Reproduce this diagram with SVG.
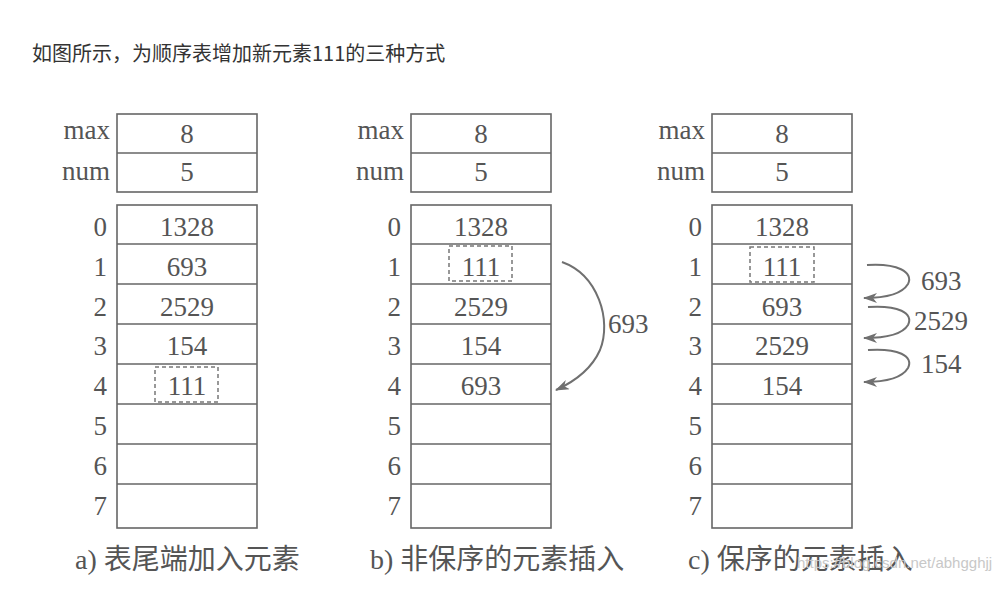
<svg xmlns="http://www.w3.org/2000/svg" width="1008" height="589" viewBox="0 0 1008 589">
<style>
.box{fill:#fff;stroke:#666;stroke-width:1.6}
.ln{stroke:#666;stroke-width:1.6}
.dash{fill:none;stroke:#777;stroke-width:1.5;stroke-dasharray:4 3}
.v{font-family:"Liberation Serif",serif;font-size:27px;fill:#555;text-anchor:middle}
.lb{font-family:"Liberation Serif",serif;font-size:27px;fill:#555;text-anchor:end}
.al{font-family:"Liberation Serif",serif;font-size:27px;fill:#555}
.cap{font-family:"Liberation Serif","Noto Sans CJK SC",serif;font-size:28px;fill:#555}
.arr{fill:none;stroke:#707070;stroke-width:2}
</style>
<defs>
<marker id="ah" markerUnits="userSpaceOnUse" markerWidth="14" markerHeight="10" refX="13" refY="5" orient="auto">
<path d="M0,0 L14,5 L0,10 L4,5 z" fill="#707070"/>
</marker>
<g id="table">
<rect class="box" x="0" y="114" width="140" height="78"/>
<line class="ln" x1="0" y1="153" x2="140" y2="153"/>
<rect class="box" x="0" y="205" width="140" height="323"/>
<line class="ln" x1="0" y1="244" x2="140" y2="244"/>
<line class="ln" x1="0" y1="284" x2="140" y2="284"/>
<line class="ln" x1="0" y1="324" x2="140" y2="324"/>
<line class="ln" x1="0" y1="364" x2="140" y2="364"/>
<line class="ln" x1="0" y1="404" x2="140" y2="404"/>
<line class="ln" x1="0" y1="444" x2="140" y2="444"/>
<line class="ln" x1="0" y1="484" x2="140" y2="484"/>
<text class="lb" x="-7" y="139">max</text>
<text class="lb" x="-7" y="180">num</text>
<text class="lb" x="-10" y="236">0</text>
<text class="lb" x="-10" y="276">1</text>
<text class="lb" x="-10" y="316">2</text>
<text class="lb" x="-10" y="355">3</text>
<text class="lb" x="-10" y="395">4</text>
<text class="lb" x="-10" y="435">5</text>
<text class="lb" x="-10" y="475">6</text>
<text class="lb" x="-10" y="515">7</text>
<text class="v" x="70" y="143">8</text>
<text class="v" x="70" y="181">5</text>
<text class="v" x="70" y="236">1328</text>
</g>
</defs>
<rect width="1008" height="589" fill="#fff"/>
<text x="32" y="61" font-family="'Noto Sans CJK SC','Noto Sans',sans-serif" font-size="20" fill="#333">如图所示，为顺序表增加新元素111的三种方式</text>

<g id="panel-a">
<use href="#table" x="117"/>
<text class="v" x="187" y="276">693</text>
<text class="v" x="187" y="316">2529</text>
<text class="v" x="187" y="355">154</text>
<rect class="dash" x="155" y="367" width="63" height="35"/>
<text class="v" x="187" y="395">111</text>
<text class="cap" x="75" y="569">a) 表尾端加入元素</text>
</g>

<g id="panel-b">
<use href="#table" x="411"/>
<rect class="dash" x="449" y="246" width="63" height="35"/>
<text class="v" x="481" y="276">111</text>
<text class="v" x="481" y="316">2529</text>
<text class="v" x="481" y="355">154</text>
<text class="v" x="481" y="395">693</text>
<text class="cap" x="370" y="569">b) 非保序的元素插入</text>
</g>

<g id="panel-c">
<use href="#table" x="712"/>
<rect class="dash" x="750" y="247" width="64" height="35"/>
<text class="v" x="782" y="276">111</text>
<text class="v" x="782" y="316">693</text>
<text class="v" x="782" y="355">2529</text>
<text class="v" x="782" y="395">154</text>
<text class="cap" x="688" y="569">c) 保序的元素插入</text>
</g>

<g id="connectors">
<path class="arr" marker-end="url(#ah)" d="M562,262 C598,275 612,320 600,350 C592,368 578,380 556,390"/>
<text class="al" x="608" y="333">693</text>
<path class="arr" marker-end="url(#ah)" d="M867,265 C897,263 914,272 908,284 C902,294 885,298 864,298"/>
<text class="al" x="921" y="290">693</text>
<path class="arr" marker-end="url(#ah)" d="M868,307 C898,305 914,313 908,325 C902,335 885,338 864,338"/>
<text class="al" x="914" y="330">2529</text>
<path class="arr" marker-end="url(#ah)" d="M868,350 C898,348 914,356 908,368 C902,378 885,382 864,382"/>
<text class="al" x="921" y="373">154</text>
</g>

<text x="797" y="568" font-family="'Liberation Sans',sans-serif" font-size="15" fill="#c8c8c8">https://blog.csdn.net/abhgghjj</text>
</svg>
